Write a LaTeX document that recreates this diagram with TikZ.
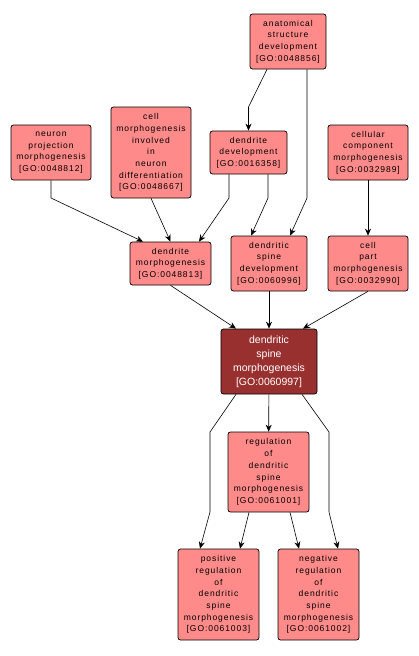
\documentclass[tikz,border=0pt]{standalone}
\usepackage{fontspec}
\setmainfont{Liberation Sans}
\usetikzlibrary{arrows.meta}
\definecolor{termred}{RGB}{255,138,138}
\definecolor{focusred}{RGB}{153,48,48}

\begin{document}
\begin{tikzpicture}[x=1pt,y=-1pt,>={Stealth[length=7pt,width=6pt]},
  term/.style={draw=black,line width=0.7pt,rounded corners=2.5pt,fill=termred,align=center,inner sep=0pt,font=\fontsize{8.5}{11.7}\selectfont\addfontfeatures{LetterSpace=11}},
  focus/.style={draw=black,line width=0.7pt,rounded corners=2.5pt,fill=focusred,text=white,align=center,inner sep=0pt,font=\fontsize{10.5}{14}\selectfont},
  link/.style={->,line width=0.6pt}]
\useasboundingbox (0,0) rectangle (418,656);
% top row
\node[term,minimum width=76pt,minimum height=55pt] (asd) at (288,41.5) {anatomical\\structure\\development\\{[GO:0048856]}};
\node[term,minimum width=80pt,minimum height=55pt] (npm) at (51,152.5) {neuron\\projection\\morphogenesis\\{[GO:0048812]}};
\node[term,minimum width=80pt,minimum height=91pt] (cmi) at (151,152.5) {cell\\morphogenesis\\involved\\in\\neuron\\differentiation\\{[GO:0048667]}};
\node[term,minimum width=77pt,minimum height=43pt] (dd) at (248.5,152.5) {dendrite\\development\\{[GO:0016358]}};
\node[term,minimum width=80pt,minimum height=55pt] (ccm) at (368,152.5) {cellular\\component\\morphogenesis\\{[GO:0032989]}};
% middle row
\node[term,minimum width=81pt,minimum height=43pt] (dm) at (170.5,263.5) {dendrite\\morphogenesis\\{[GO:0048813]}};
\node[term,minimum width=76pt,minimum height=55pt] (dsd) at (269,263.5) {dendritic\\spine\\development\\{[GO:0060996]}};
\node[term,minimum width=80pt,minimum height=55pt] (cpm) at (368,263.5) {cell\\part\\morphogenesis\\{[GO:0032990]}};
\node[focus,minimum width=96pt,minimum height=65pt] (dsm) at (269,361.5) {dendritic\\spine\\morphogenesis\\{[GO:0060997]}};
% bottom
\node[term,minimum width=81pt,minimum height=80pt] (rdsm) at (268.5,472) {regulation\\of\\dendritic\\spine\\morphogenesis\\{[GO:0061001]}};
\node[term,minimum width=81pt,minimum height=91pt] (pos) at (218.5,594.5) {positive\\regulation\\of\\dendritic\\spine\\morphogenesis\\{[GO:0061003]}};
\node[term,minimum width=81pt,minimum height=91pt] (neg) at (318.5,594.5) {negative\\regulation\\of\\dendritic\\spine\\morphogenesis\\{[GO:0061002]}};

\draw[link] ([xshift=-21pt]asd.south) -- (dd.north |- 0,107) -- (dd.north);
\draw[link] ([xshift=19pt]asd.south) -- (307,198) -- ([xshift=21pt]dsd.north);
\draw[link] (npm.south) -- (51,198) -- ([xshift=-27.5pt]dm.north);
\draw[link] (cmi.south) -- (dm.north);
\draw[link] ([xshift=-19.5pt]dd.south) -- (229,198) -- ([xshift=28.5pt]dm.north);
\draw[link] ([xshift=19.5pt]dd.south) -- (268,198) -- ([xshift=-18pt]dsd.north);
\draw[link] (ccm) -- (cpm);
\draw[link] (dm.south) -- ([xshift=-33pt]dsm.north);
\draw[link] (dsd) -- (dsm);
\draw[link] (cpm.south) -- ([xshift=34pt]dsm.north);
\draw[link] (dsm) -- (rdsm);
\draw[link] ([xshift=-33pt]dsm.south) -- (210,432) -- (210,512) -- ([xshift=-18.5pt]pos.north);
\draw[link] ([xshift=33pt]dsm.south) -- (329,432) -- (329,512) -- ([xshift=19.5pt]neg.north);
\draw[link] ([xshift=-19.5pt]rdsm.south) -- ([xshift=21.5pt]pos.north);
\draw[link] ([xshift=21.5pt]rdsm.south) -- ([xshift=-19.5pt]neg.north);
\end{tikzpicture}
\end{document}
